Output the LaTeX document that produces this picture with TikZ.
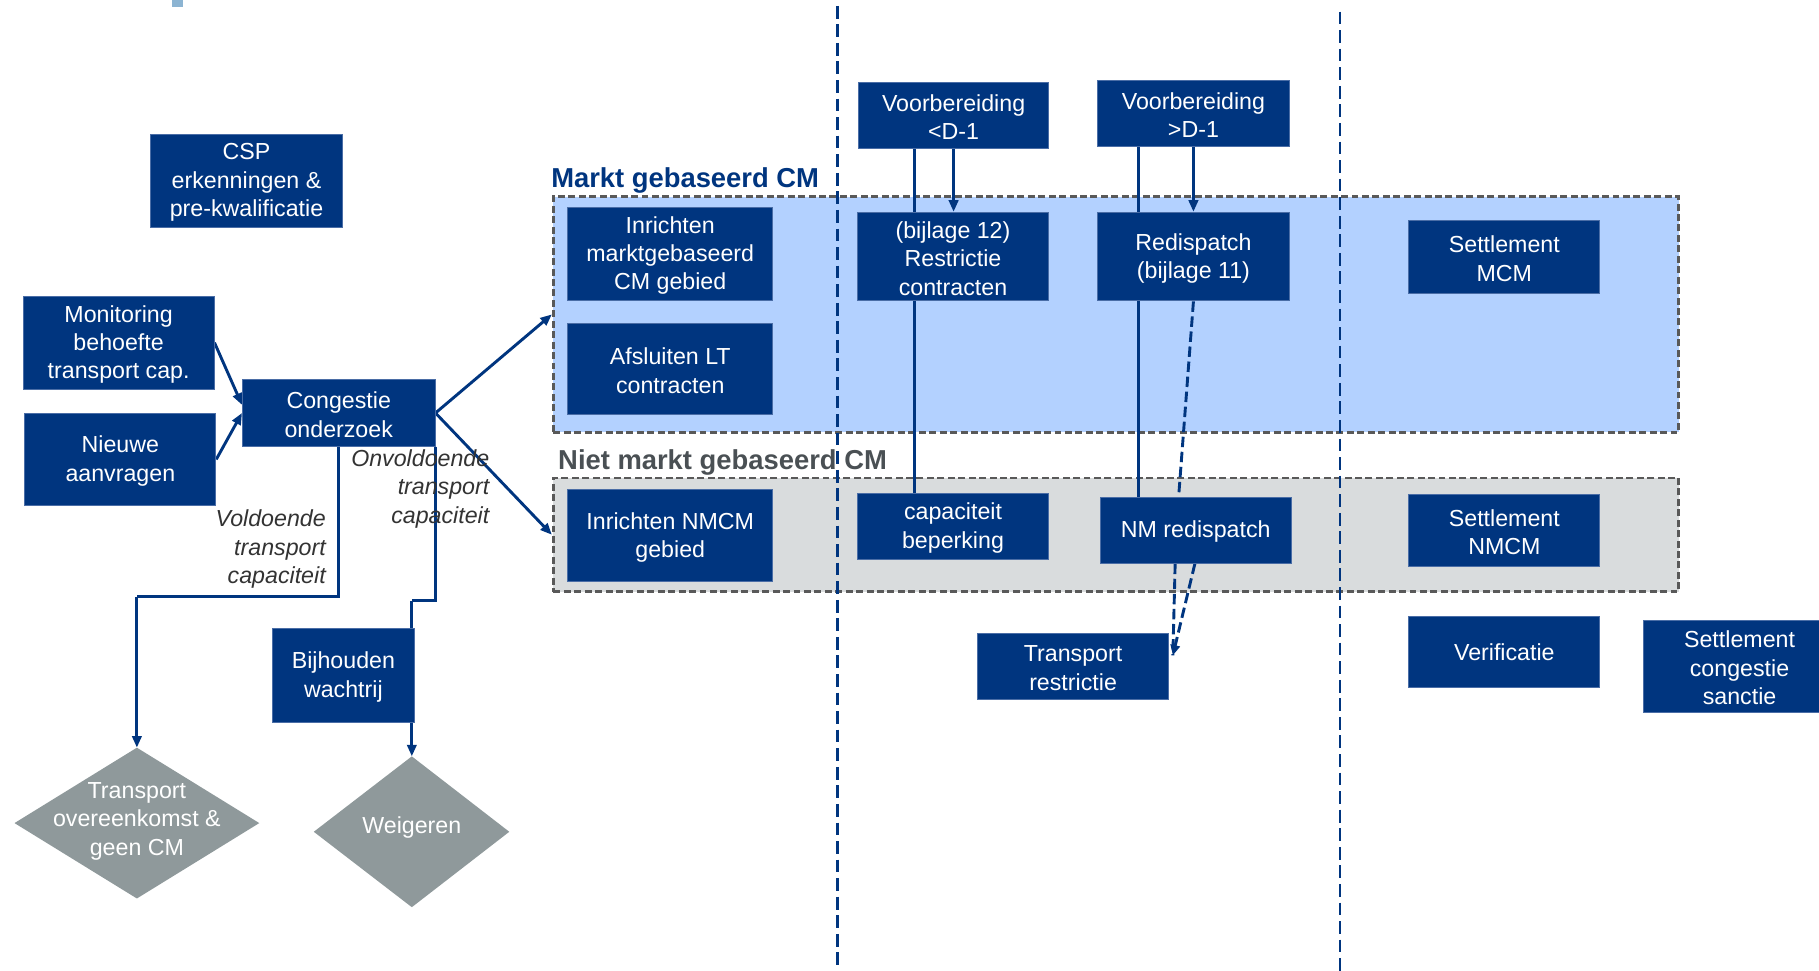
\documentclass[tikz,border=0pt]{standalone}
\usepackage{fontspec}
\setmainfont{Liberation Sans}
\usetikzlibrary{arrows.meta}
\definecolor{navy}{HTML}{00357F}
\definecolor{boxedge}{HTML}{4A6DA6}
\definecolor{mktfill}{HTML}{B3D1FF}
\definecolor{nmfill}{HTML}{D9DCDD}
\definecolor{regedge}{HTML}{595959}
\definecolor{diagray}{HTML}{8F999B}
\definecolor{lblgray}{HTML}{333333}
\definecolor{nmtitle}{HTML}{4A5054}
\definecolor{topmark}{HTML}{8CB4D2}
\pgfdeclarelayer{back}
\pgfdeclarelayer{mid}
\pgfsetlayers{back,mid,main}
\begin{document}
\begin{tikzpicture}[x=1pt,y=-1pt,
  box/.style={rectangle, fill=navy, draw=boxedge, line width=0.8pt, inner sep=0pt},
  btext/.style={text=white, inner sep=0pt, align=center, font=\fontsize{20}{24.5}\selectfont, yshift=-1.5pt},
  region/.style={rectangle, draw=regedge, line width=2.5pt, dash pattern=on 6pt off 3pt, inner sep=0pt},
  conn/.style={draw=navy, line width=2.5pt, -{Triangle[length=10pt,width=8pt]}},
  link/.style={draw=navy, line width=2.5pt},
  dlink/.style={draw=navy, line width=2.5pt, dash pattern=on 9pt off 4pt},
  dconn/.style={draw=navy, line width=2.5pt, dash pattern=on 9pt off 4pt, -{Triangle[length=9pt,width=8pt]}},
  sepline/.style={draw=navy, line width=2pt, dash pattern=on 11pt off 5pt},
  lbl/.style={font=\fontsize{20}{24.5}\selectfont\itshape, text=lblgray, align=right, inner sep=0pt},
  ttl/.style={font=\fontsize{23.6}{28}\selectfont\bfseries, inner sep=0pt},
  dtext/.style={text=white, align=center, inner sep=0pt, font=\fontsize{20}{24.5}\selectfont}
]
\useasboundingbox (0,0) rectangle (1568,837);

% ---------- background layer: regions, separators, diamonds
\begin{pgfonlayer}{back}
  \fill[topmark] (148,0) rectangle (158,6);
  \node[region, fill=mktfill, minimum width=970pt, minimum height=203pt] (mkt) at (962,271) {};
  \node[region, fill=nmfill, minimum width=970pt, minimum height=98pt] (nmk) at (962,461) {};
  \coordinate (s1top) at (722,5);
  \coordinate (s1bot) at (722,837);
  \coordinate (s2top) at (1155,10);
  \coordinate (s2bot) at (1155,837);
  \draw[sepline] (s1top) -- (s1bot);
  \draw[sepline] (s2top) -- (s2bot);
  \coordinate (d1top) at (118,644.5);
  \coordinate (d1right) at (223.5,709.5);
  \coordinate (d1bot) at (118,774.5);
  \coordinate (d1left) at (12.5,709.5);
  \fill[diagray] (d1top) -- (d1right) -- (d1bot) -- (d1left) -- cycle;
  \coordinate (d2top) at (355,652);
  \coordinate (d2right) at (439,717);
  \coordinate (d2bot) at (355,782);
  \coordinate (d2left) at (270.5,717);
  \fill[diagray] (d2top) -- (d2right) -- (d2bot) -- (d2left) -- cycle;
\end{pgfonlayer}

% ---------- titles
\node[ttl, text=navy, anchor=base west] (mkttitle) at (475,162) {Markt gebaseerd CM};
\node[ttl, text=nmtitle, anchor=base west] (nmtitle) at (481,405) {Niet markt gebaseerd CM};

% ---------- boxes
\node[box, minimum width=165pt, minimum height=80pt, label={[btext]center:{CSP\\erkenningen \&\\pre-kwalificatie}}] (csp) at (212.5,156) {};
\node[box, minimum width=164.5pt, minimum height=80pt, label={[btext]center:{Monitoring\\behoefte\\transport cap.}}] (mon) at (102.25,295.4) {};
\node[box, minimum width=164.5pt, minimum height=80pt, label={[btext]center:{Nieuwe\\aanvragen}}] (nieuw) at (103.75,396) {};
\node[box, minimum width=166pt, minimum height=57pt, label={[btext]center:{Congestie\\onderzoek}}] (cong) at (292,356) {};
\node[box, minimum width=176.5pt, minimum height=79.6pt, label={[btext]center:{Inrichten\\marktgebaseerd\\CM gebied}}] (inrm) at (577.75,218.8) {};
\node[box, minimum width=176.5pt, minimum height=78.7pt, label={[btext]center:{Afsluiten LT\\contracten}}] (afsl) at (577.75,318) {};
\node[box, minimum width=176.5pt, minimum height=79pt, label={[btext]center:{Inrichten NMCM\\gebied}}] (inrn) at (577.75,461.8) {};
\node[box, minimum width=164pt, minimum height=56.5pt, label={[btext, yshift=0.5pt]center:{Voorbereiding\\<D-1}}] (vb1) at (822,99.75) {};
\node[box, minimum width=165pt, minimum height=76.4pt, label={[btext]center:{(bijlage 12)\\Restrictie\\contracten}}] (restr) at (821.5,221.2) {};
\node[box, minimum width=165pt, minimum height=57pt, label={[btext]center:{capaciteit\\beperking}}] (capb) at (821.5,453.5) {};
\node[box, minimum width=165.5pt, minimum height=57pt, label={[btext, yshift=0.5pt]center:{Voorbereiding\\>D-1}}] (vb2) at (1028.75,98) {};
\node[box, minimum width=165.5pt, minimum height=76.4pt, label={[btext]center:{Redispatch\\(bijlage 11)}}] (redis) at (1028.75,221.2) {};
\node[box, minimum width=164.5pt, minimum height=57pt, label={[btext]center:{NM redispatch}}] (nmred) at (1030.75,457) {};
\node[box, minimum width=164pt, minimum height=57pt, label={[btext]center:{Transport\\restrictie}}] (trres) at (925,574.5) {};
\node[box, minimum width=164.5pt, minimum height=62.3pt, label={[btext]center:{Settlement\\MCM}}] (setmcm) at (1296.75,221.6) {};
\node[box, minimum width=164.5pt, minimum height=62.7pt, label={[btext]center:{Settlement\\NMCM}}] (setnmcm) at (1296.75,457.3) {};
\node[box, minimum width=164.5pt, minimum height=61pt, label={[btext, yshift=1pt]center:{Verificatie}}] (verif) at (1296.75,562) {};
\node[box, minimum width=165pt, minimum height=79.4pt, label={[btext]center:{Settlement\\congestie\\sanctie}}] (setcs) at (1499.5,574.3) {};
\node[box, minimum width=122pt, minimum height=81pt, label={[btext]center:{Bijhouden\\wachtrij}}] (bijh) at (296,582) {};

% ---------- diamond texts
\node[dtext] (d1) at (118,708) {Transport\\overeenkomst \&\\geen CM};
\node[dtext] (d2) at (355,713) {Weigeren};

% ---------- labels
\node[lbl, anchor=east] (onv) at (422,421.5) {Onvoldoende\\transport\\capaciteit};
\node[lbl, anchor=east] (vold) at (281,473.5) {Voldoende\\transport\\capaciteit};

% ---------- connectors (behind boxes)
\coordinate (vcorner) at (118,514.5);
\coordinate (ocorner) at (355,518);
\coordinate (trtip) at (1011,565);
\begin{pgfonlayer}{mid}
  \draw[conn] (mon.east) -- ([yshift=7pt]cong.west);
  \draw[conn] (nieuw.east) -- (cong.west);
  \draw[conn] (cong.east) -- (mkt.west);
  \draw[conn] (cong.east) -- (nmk.west);
  \draw[link] (cong.south) |- (vcorner);
  \draw[conn] (vcorner) -- (d1top);
  \draw[link] (cong.south east) |- (ocorner);
  \draw[conn] (ocorner) -- (d2top);
  \draw[conn] (vb1.south) -- (vb1.south |- restr.north);
  \draw[link] ([xshift=-34pt]vb1.south) -- ([xshift=-34pt]vb1.south |- capb.north);
  \draw[conn] (vb2.south) -- (vb2.south |- redis.north);
  \draw[link] ([xshift=-47.75pt]vb2.south) -- ([xshift=-47.75pt]vb2.south |- nmred.north);
  \draw[dlink] (redis.south) -- ([xshift=-14.75pt]nmred.north);
  \draw[dlink] ([xshift=-17.75pt]nmred.south) -- (trtip);
  \draw[dconn] ([xshift=-0.75pt]nmred.south) -- (trtip);
\end{pgfonlayer}
\end{tikzpicture}
\end{document}
